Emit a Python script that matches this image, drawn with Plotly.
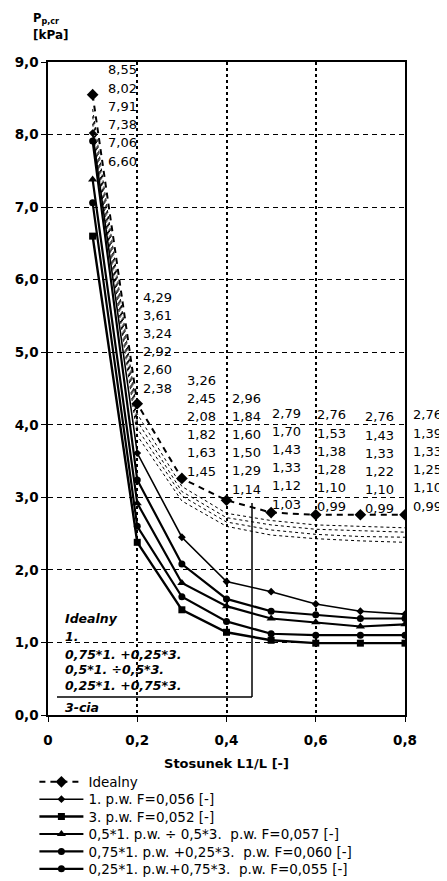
import plotly.graph_objects as go

# ---------------- data ----------------
x_ratio = [0.1, 0.2, 0.3, 0.4, 0.5, 0.6, 0.7, 0.8]
idealny = [8.55, 4.29, 3.26, 2.96, 2.79, 2.76, 2.76, 2.76]
pw1 = [8.02, 3.61, 2.45, 1.84, 1.70, 1.53, 1.43, 1.39]
pw3 = [6.60, 2.38, 1.45, 1.14, 1.03, 0.99, 0.99, 0.99]
mix50 = [7.38, 2.92, 1.82, 1.50, 1.33, 1.28, 1.22, 1.25]
mix75 = [7.91, 3.24, 2.08, 1.60, 1.43, 1.38, 1.33, 1.33]
mix25 = [7.06, 2.60, 1.63, 1.29, 1.12, 1.10, 1.10, 1.10]
# unlabeled dotted curves (estimated)
dot_a = [8.35, 4.15, 3.15, 2.78, 2.68, 2.62, 2.60, 2.58]
dot_b = [8.25, 4.05, 3.08, 2.72, 2.62, 2.56, 2.54, 2.52]
dot_c = [8.15, 3.95, 3.02, 2.66, 2.55, 2.49, 2.46, 2.45]
dot_d = [8.05, 3.85, 2.95, 2.60, 2.48, 2.43, 2.40, 2.38]

legend_names = [
    "Idealny",
    "1. p.w. F=0,056 [-]",
    "3. p.w. F=0,052 [-]",
    "0,5*1. p.w. ÷ 0,5*3.  p.w. F=0,057 [-]",
    "0,75*1. p.w. +0,25*3.  p.w. F=0,060 [-]",
    "0,25*1. p.w.+0,75*3.  p.w. F=0,055 [-]",
]
box_labels = ["Idealny", "1.", "0,75*1. +0,25*3.", "0,5*1. ÷0,5*3.",
              "0,25*1. +0,75*3.", "3-cia"]
x_tickvals = [0, 0.2, 0.4, 0.6, 0.8]
x_ticktext = ["0", "0,2", "0,4", "0,6", "0,8"]
y_tickvals = [0, 1, 2, 3, 4, 5, 6, 7, 8, 9]
y_ticktext = ["0,0", "1,0", "2,0", "3,0", "4,0", "5,0", "6,0", "7,0", "8,0", "9,0"]
value_rows = [idealny, pw1, mix75, mix50, mix25, pw3]

# ---------------- geometry (page pixels) ----------------
OFF = 8                      # page body margin
PAGE_W, PAGE_H = 447, 881
PL, PR, PT, PB = 48, 405, 62, 715   # plot area in page pixels
W, H = PAGE_W - OFF, PAGE_H - OFF
ML, MT = PL - OFF, PT - OFF
MR = OFF + W - PR
MB = OFF + H - PB
XMAX, YMAX = 0.8, 9.0
pw = PR - PL
ph = PB - PT


def px2x(px):
    return (px - PL) / pw * XMAX


def py2y(py):
    return (PB - py) / ph * YMAX


def px2paper(px):
    return (px - PL) / pw


def py2paper(py):
    return (PB - py) / ph


FONT = "DejaVu Sans"
fig = go.Figure()

for ys in [dot_a, dot_b, dot_c, dot_d]:
    fig.add_trace(go.Scatter(x=x_ratio, y=ys, mode="lines", showlegend=False,
                             line=dict(color="black", width=1, dash="dot"),
                             hoverinfo="skip"))

styles = [
    (idealny, dict(width=2, dash="6px,5px"), dict(symbol="diamond", size=9)),
    (pw1, dict(width=1.6), dict(symbol="diamond", size=6)),
    (pw3, dict(width=2.4), dict(symbol="square", size=7)),
    (mix50, dict(width=2.2), dict(symbol="triangle-up", size=8)),
    (mix75, dict(width=2.2), dict(symbol="circle", size=7)),
    (mix25, dict(width=2.2), dict(symbol="circle", size=7)),
]
legend_layouts = {}
LEG_Y0, LEG_STEP = 782, 17.4
for i, ((ys, ln, mk), name) in enumerate(zip(styles, legend_names)):
    ln = dict(ln, color="black")
    mk = dict(mk, color="black")
    key = "legend" if i == 0 else f"legend{i + 1}"
    fig.add_trace(go.Scatter(x=x_ratio, y=ys, mode="lines+markers", name=name,
                             line=ln, marker=mk, legend=key, showlegend=True))
    legend_layouts[key] = dict(
        x=px2paper(34.4), y=py2paper(LEG_Y0 + i * LEG_STEP),
        xanchor="left", yanchor="middle",
        font=dict(family=FONT, size=13.5, color="black"),
        itemwidth=44, bgcolor="rgba(0,0,0,0)", borderwidth=0,
        tracegroupgap=0)

annotations = []
# value label columns: (left px, first-row px)
col_pos = [(106, 70), (141, 297), (185, 380), (230, 398), (270, 413),
           (315, 415), (363, 417), (411, 415)]
row_step = 18.2
for i, (lx, ty) in enumerate(col_pos):
    for r, series in enumerate(value_rows):
        v = series[i]
        annotations.append(dict(
            x=px2paper(lx), y=py2paper(ty + r * row_step), xref="paper", yref="paper",
            text=f"{v:.2f}".replace(".", ","), showarrow=False,
            xanchor="left", yanchor="middle",
            font=dict(family=FONT, size=13, color="black")))

# text box labels
box_rows_px = [618, 636, 654, 669, 685, 707]
for lbl, py in zip(box_labels, box_rows_px):
    annotations.append(dict(
        x=px2paper(63), y=py2paper(py), xref="paper", yref="paper",
        text=f"<b><i>{lbl}</i></b>",
        showarrow=False, xanchor="left", yanchor="middle",
        font=dict(family=FONT, size=12.5, color="black")))

# y axis title (two lines)
annotations.append(dict(
    x=px2paper(31), y=py2paper(18), xref="paper", yref="paper", showarrow=False,
    text="<b>P<sub>p,cr</sub></b>", xanchor="left", yanchor="middle",
    font=dict(family=FONT, size=11.5, color="black")))
annotations.append(dict(
    x=px2paper(31), y=py2paper(35), xref="paper", yref="paper", showarrow=False,
    text="<b>[kPa]</b>", xanchor="left", yanchor="middle",
    font=dict(family=FONT, size=12, color="black")))

fig.update_layout(
    width=W, height=H,
    margin=dict(l=ML, r=MR, t=MT, b=MB, autoexpand=False),
    paper_bgcolor="white", plot_bgcolor="white",
    font=dict(family=FONT, size=13, color="black"),
    annotations=annotations,
    shapes=[
        dict(type="line", xref="x", yref="y", x0=px2x(252), x1=px2x(252),
             y0=py2y(697), y1=py2y(503), line=dict(color="black", width=1.5)),
        dict(type="line", xref="x", yref="y", x0=px2x(57), x1=px2x(252),
             y0=py2y(697), y1=py2y(697), line=dict(color="black", width=1.5)),
    ],
    xaxis=dict(range=[0, XMAX], tickvals=x_tickvals, ticktext=x_ticktext,
               showgrid=True, gridcolor="black", gridwidth=1.5, griddash="3px,3px",
               showline=True, linecolor="black", linewidth=1.5, mirror=True,
               ticks="outside", ticklen=5, tickcolor="black", ticklabelstandoff=7,
               tickfont=dict(family=FONT, size=13.5, color="black", weight="bold"),
               title=dict(text="<b>Stosunek L1/L [-]</b>", standoff=12,
                          font=dict(family=FONT, size=13, color="black")),
               zeroline=False),
    yaxis=dict(range=[0, YMAX], tickvals=y_tickvals, ticktext=y_ticktext,
               showgrid=True, gridcolor="black", gridwidth=1.2, griddash="5px,4px",
               showline=True, linecolor="black", linewidth=1.5, mirror=True,
               ticks="outside", ticklen=5, tickcolor="black",
               tickfont=dict(family=FONT, size=13.5, color="black", weight="bold"),
               zeroline=False),
    showlegend=True,
    **legend_layouts,
)

fig.write_html("out.html")
